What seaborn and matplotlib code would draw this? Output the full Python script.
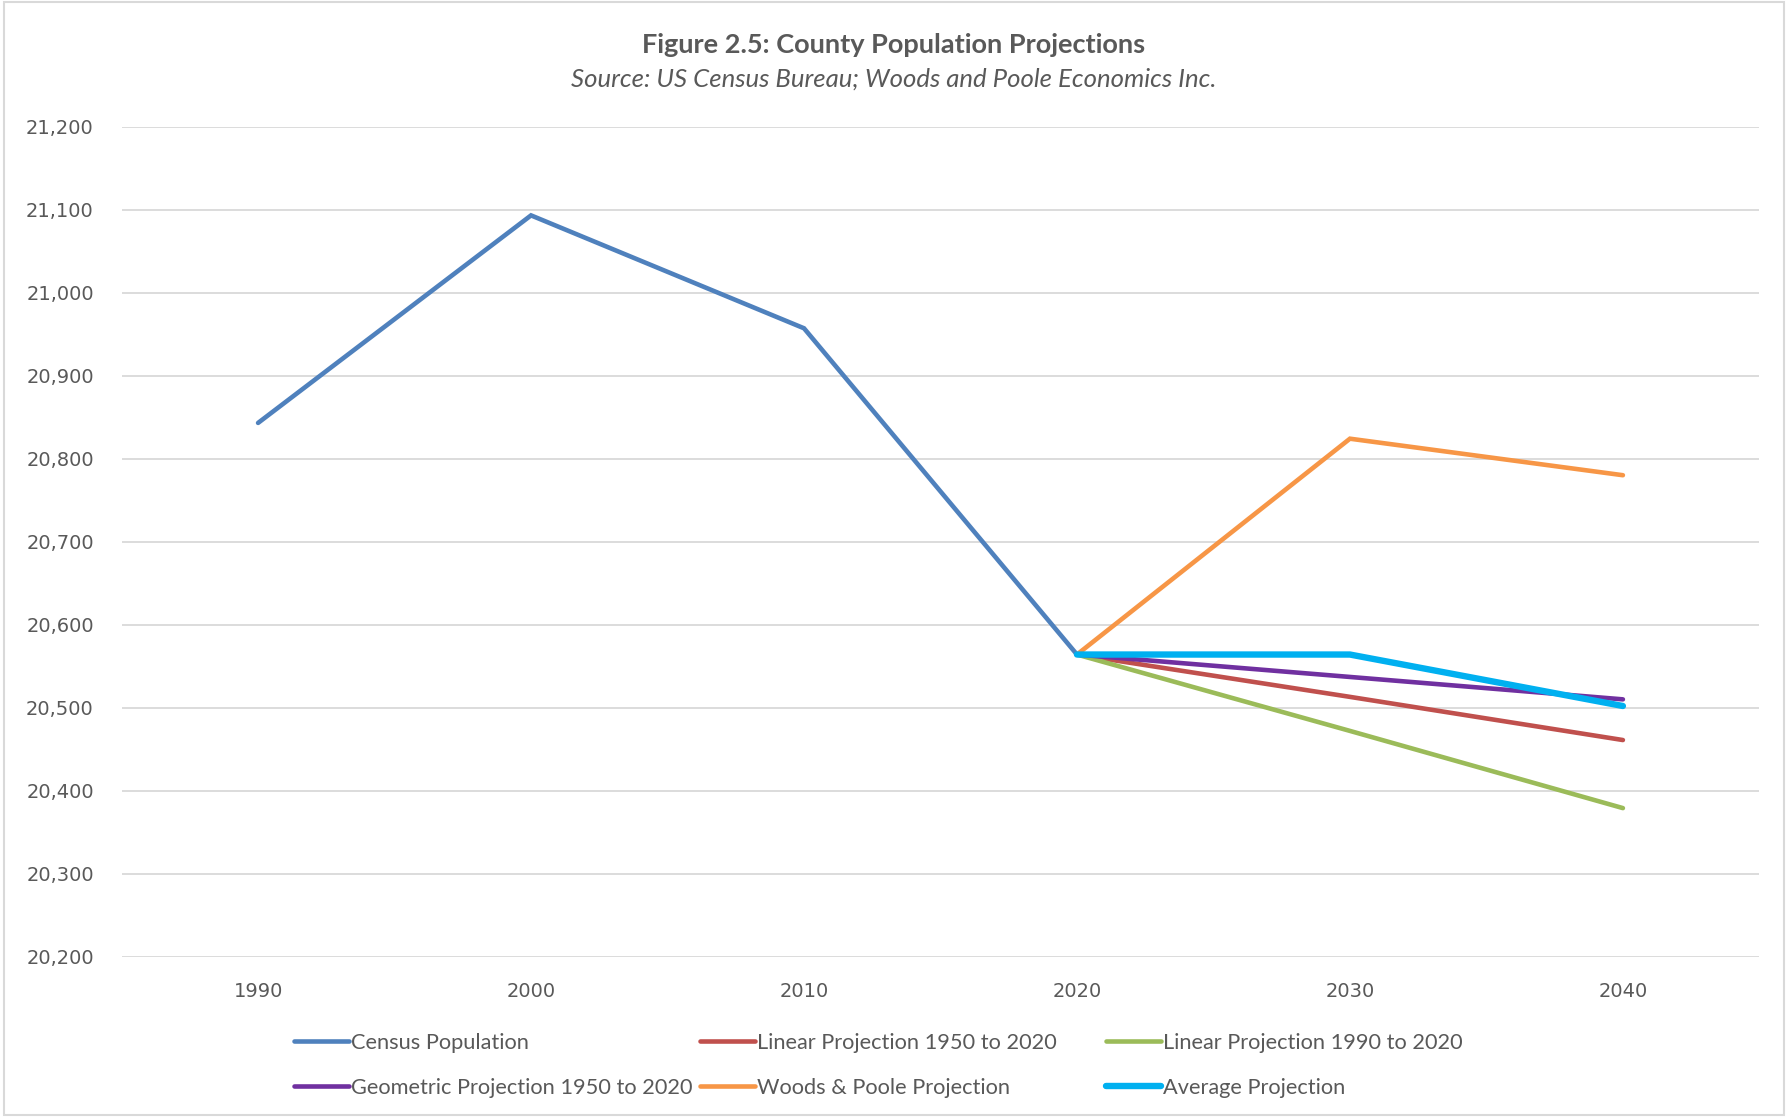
import pandas as pd, numpy as np, matplotlib
matplotlib.use('Agg')
import matplotlib.pyplot as plt
import seaborn as sns
from matplotlib.ticker import FuncFormatter
from matplotlib.patches import Rectangle

# valores
anios_censo = ['1990', '2000', '2010', '2020']
censo = [20843, 21093, 20957, 20564]

anios_proy = ['2020', '2030', '2040']
lineal_1950 = [20564, 20513, 20461]
lineal_1990 = [20564, 20472, 20379]
geometrica_1950 = [20564, 20537, 20510]
woods_poole = [20564, 20824, 20780]
promedio = [20564, 20564, 20502]

series = [
    ('Census Population', anios_censo, censo, '#4F81BD', 3.3),
    ('Linear Projection 1950 to 2020', anios_proy, lineal_1950, '#C0504D', 3.3),
    ('Linear Projection 1990 to 2020', anios_proy, lineal_1990, '#9BBB59', 3.3),
    ('Geometric Projection 1950 to 2020', anios_proy, geometrica_1950, '#7030A0', 3.3),
    ('Woods & Poole Projection', anios_proy, woods_poole, '#F79646', 3.3),
    ('Average Projection', anios_proy, promedio, '#00B0F0', 4.6),
]

sns.set_style('white')
plt.rcParams['font.family'] = ['Lato', 'DejaVu Sans']

fig = plt.figure(figsize=(17.88, 11.17), dpi=100)
ax = fig.add_axes([0.068, 0.1435, 0.916, 0.7432])

# eje categorico con todos los anios en orden
todos = ['1990', '2000', '2010', '2020', '2030', '2040']
lineas = {}
for nombre, xs, ys, color, lw in series:
    df = pd.DataFrame({'Year': [todos.index(x) for x in xs], 'Population': ys})
    sns.lineplot(data=df, x='Year', y='Population', ax=ax, color=color, linewidth=lw,
                 label=nombre, sort=False, solid_capstyle='round', solid_joinstyle='miter',
                 legend=False)
    lineas[nombre] = ax.lines[-1]

ax.set_xlim(-0.5, 5.5)
ax.set_ylim(20200, 21200)
ax.set_xticks(range(len(todos)))
ax.set_xticklabels(todos)
ax.set_yticks(np.arange(20200, 21201, 100))
ax.yaxis.set_major_formatter(FuncFormatter(lambda v, p: f'{int(v):,}'))
ax.grid(axis='y', color='#D9D9D9', linewidth=1.3)
ax.set_axisbelow(True)
for s in ax.spines.values(): s.set_visible(False)
ax.tick_params(axis='both', length=0, labelcolor='#595959', labelsize=14)
for t in ax.get_xticklabels() + ax.get_yticklabels(): t.set_family('DejaVu Sans')
ax.tick_params(axis='y', pad=20)
ax.tick_params(axis='x', pad=18)
ax.set_xlabel(''); ax.set_ylabel('')

# leyenda estilo Excel: columnas de ancho fijo, una leyenda por columna
columnas = [
    (0.1645, ['Census Population', 'Geometric Projection 1950 to 2020']),
    (0.3915, ['Linear Projection 1950 to 2020', 'Woods & Poole Projection']),
    (0.6186, ['Linear Projection 1990 to 2020', 'Average Projection']),
]
for x0, nombres in columnas:
    fig.legend([lineas[n] for n in nombres], nombres, loc='upper left',
               bbox_to_anchor=(x0, 0.0754), frameon=False, fontsize=15.7,
               handlelength=2.5, handletextpad=0.1, labelspacing=1.16,
               borderpad=0, borderaxespad=0, labelcolor='#595959')

fig.text(0.5, 0.960, 'Figure 2.5: County Population Projections', ha='center', va='center',
         fontsize=19.5, fontweight='bold', color='#595959')
fig.text(0.5, 0.929, 'Source: US Census Bureau; Woods and Poole Economics Inc.', ha='center',
         va='center', fontsize=18.5, style='italic', color='#595959')

fig.patches.append(Rectangle((0.002, 0.002), 0.996, 0.996, transform=fig.transFigure,
                             fill=False, edgecolor='#D9D9D9', linewidth=1.5))

plt.savefig('out.png', dpi=100)
